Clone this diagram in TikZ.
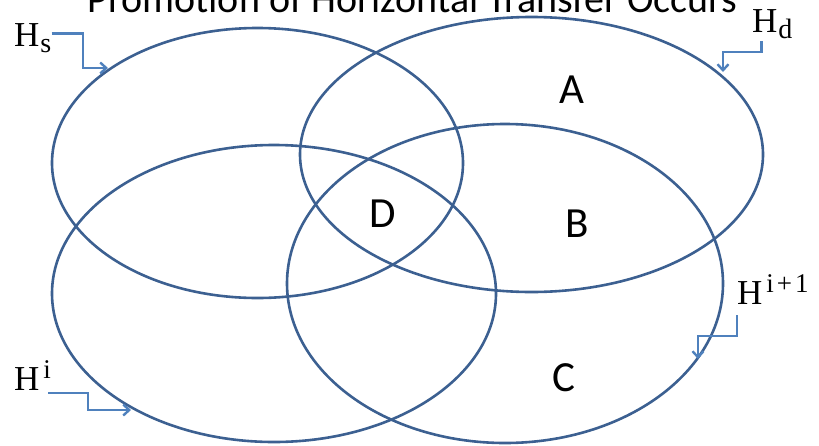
\documentclass[tikz,border=0pt]{standalone}
\usepackage{fontspec}
\setmainfont{Liberation Serif}
\newfontfamily\carlito{Carlito}
\usetikzlibrary{arrows.meta}

\definecolor{setline}{RGB}{60,96,145}
\definecolor{pointcol}{RGB}{79,129,189}

% labels of the sets
\newcommand{\hlabsub}[1]{H\kern1pt\raisebox{-6pt}{\fontsize{28}{28}\selectfont #1}}
\newcommand{\hlabsup}[1]{H\kern4pt\raisebox{12pt}{\fontsize{27}{27}\selectfont #1}}

\tikzset{
    setring/.style={draw=setline, line width=2.6pt},
    setname/.style={inner sep=0pt, anchor=base west, font=\fontsize{35}{35}\selectfont},
    region/.style={inner sep=0pt, anchor=base, font=\carlito\fontsize{43}{43}\selectfont},
    pointer/.style={draw=pointcol, line width=2.4pt, -{Straight Barb[length=6pt,width=11pt]}}
}

\begin{document}
\begin{tikzpicture}[x=1pt, y=-1pt]
    \useasboundingbox (0,0) rectangle (819,445);
    \clip (0,0) rectangle (819,445);

    % titel (oben abgeschnitten)
    \node[inner sep=0pt, anchor=base, font=\carlito\fontsize{40}{40}\selectfont] (title) at (412.5,12) {Promotion of Horizontal Transfer Occurs};

    % die vier Mengen
    \draw[setring] (257.5,163) ellipse (205.5 and 135);
    \draw[setring] (531.5,154.5) ellipse (231.5 and 137.5);
    \draw[setring] (274,293.5) ellipse (222 and 148.5);
    \draw[setring] (505,283.5) ellipse (218 and 159.5);

    % Bereiche
    \node[region] (a) at (572,103) {A};
    \node[region] (b) at (577,237) {B};
    \node[region] (c) at (564,391) {C};
    \node[region] (d) at (383,227) {D};

    % Namen der Mengen
    \node[setname] (hs) at (14,46) {\hlabsub{s}};
    \node[setname] (hd) at (752,32) {\hlabsub{d}};
    \node[setname] (hnext) at (737,304) {\hlabsup{i\kern3pt+\kern3pt1}};
    \node[setname] (hi) at (14,390) {\hlabsup{i}};

    % Spitzen auf den Ellipsen
    \coordinate (tips) at (108,68);
    \coordinate (tipd) at (723,72);
    \coordinate (tipnext) at (698,359);
    \coordinate (tipi) at (131,410);

    % Zeiger
    \draw[pointer] ([yshift=4pt]hs.east) -| (83,68) -- (tips);
    \draw[pointer] ([xshift=-11pt,yshift=-3pt]hd.south) |- (723,52) -- (tipd);
    \draw[pointer] ([yshift=-11pt]hnext.south west) |- (698,336) -- (tipnext);
    \draw[pointer] ([xshift=-3pt,yshift=-3pt]hi.south east) -| (88,410) -- (tipi);
\end{tikzpicture}
\end{document}
